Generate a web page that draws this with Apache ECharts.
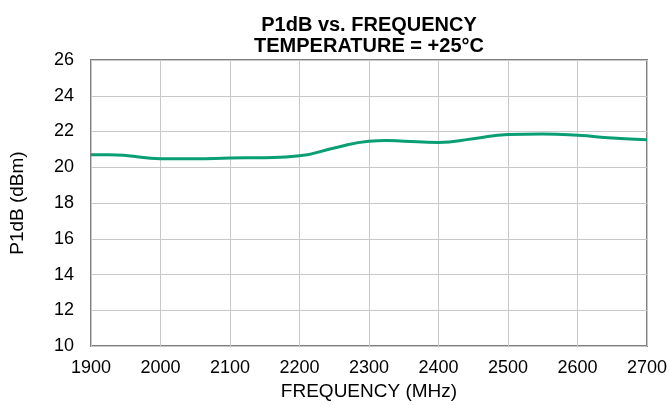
<!DOCTYPE html>
<html><head><meta charset="utf-8">
<script src="https://cdn.jsdelivr.net/npm/echarts@6/dist/echarts.min.js"></script>
<style>html,body{margin:0;padding:0;background:#fff}#c{width:670px;height:406px}</style>
</head><body><div id="c"></div>
<script>
const freqs = [1900,1925,1950,2000,2050,2100,2150,2200,2250,2300,2325,2350,2400,2450,2500,2550,2600,2650,2700];
const p1db  = [20.70,20.70,20.66,20.48,20.48,20.52,20.54,20.64,21.08,21.46,21.50,21.46,21.39,21.60,21.83,21.86,21.79,21.64,21.54];
const xTicks = [1900,2700,100];
const yTicks = [10,26,2];
const FONT = '"Liberation Sans", Arial, sans-serif';
const chart = echarts.init(document.getElementById('c'), null, {renderer:'canvas'});
chart.setOption({
  animation:false,
  title:{
    text:'P1dB vs. FREQUENCY\nTEMPERATURE = +25°C',
    left:364, top:10, textAlign:'center',
    textStyle:{fontFamily:FONT,fontSize:20,fontWeight:'bold',color:'#000',lineHeight:21}
  },
  grid:{left:88,right:22,top:60,bottom:54,show:true,borderColor:'#808080',borderWidth:2,containLabel:false},
  xAxis:{
    type:'value',min:xTicks[0],max:xTicks[1],interval:xTicks[2],
    name:'FREQUENCY (MHz)',nameLocation:'middle',nameGap:35,
    nameTextStyle:{fontFamily:FONT,fontSize:19,color:'#000'},
    axisLine:{show:false},axisTick:{show:false},
    axisLabel:{fontFamily:FONT,fontSize:18,color:'#000',margin:13,formatter:v=>String(v)},
    splitLine:{show:true,lineStyle:{color:'#c8c8c8',width:1}}
  },
  yAxis:{
    type:'value',min:yTicks[0],max:yTicks[1],interval:yTicks[2],
    name:'P1dB (dBm)',nameLocation:'middle',nameGap:64,
    nameTextStyle:{fontFamily:FONT,fontSize:19,color:'#000'},
    axisLine:{show:false},axisTick:{show:false},
    axisLabel:{fontFamily:FONT,fontSize:18,color:'#000',margin:17},
    splitLine:{show:true,lineStyle:{color:'#c8c8c8',width:1}}
  },
  series:[{
    type:'line',smooth:0.5,showSymbol:false,
    data:freqs.map((f,i)=>[f,p1db[i]]),
    lineStyle:{color:'#0a9e74',width:3}
  }]
});
</script></body></html>
